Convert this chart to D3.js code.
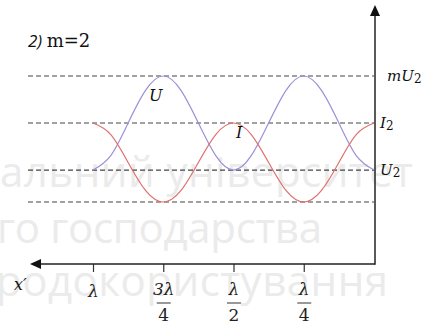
<!DOCTYPE html>
<html>
<head>
<meta charset="utf-8">
<script src="https://cdn.jsdelivr.net/npm/d3@7"></script>
<style>
body{margin:0;background:#fff;}
svg{display:block;}
</style>
</head>
<body>
<script>
// x in units of lambda (0 at the vertical axis, 1 at the left)
const xs=[1,0.9375,0.875,0.8125,0.75,0.6875,0.625,0.5625,0.5,0.4375,0.375,0.3125,0.25,0.1875,0.125,0.0625,0]
const uVals=[1,1.15,1.5,1.85,2,1.85,1.5,1.15,1,1.15,1.5,1.85,2,1.85,1.5,1.15,1]
const iVals=[1.5,1.38,1.08,0.78,0.66,0.78,1.08,1.38,1.5,1.38,1.08,0.78,0.66,0.78,1.08,1.38,1.5]
const levels=[2,1.5,1,0.66]
const tickVals=[1,0.75,0.5,0.25]
const tickNum=["λ","3λ","λ","λ"]
const tickDen=[null,"4","2","4"]
const watermark=["альний університет","го господарства","родокористування"]

const width=422,height=326
const svg=d3.select("body").append("svg").attr("width",width).attr("height",height)

// watermark behind everything
const wm=[{t:watermark[0],x:0,y:187,w:413},{t:watermark[1],x:-3,y:243,w:325},{t:watermark[2],x:-4,y:296,w:392}]
svg.selectAll(".wm").data(wm).enter().append("text")
  .attr("x",d=>d.x).attr("y",d=>d.y)
  .attr("textLength",d=>d.w).attr("lengthAdjust","spacing")
  .attr("font-family","Open Sans").attr("font-size",42)
  .attr("fill","#ebebeb").text(d=>d.t)

const x=d3.scaleLinear().domain([0,1]).range([374,93])
const y=d3.scaleLinear().domain([0.66,2]).range([202,76])
const axisY=264

// dashed levels
svg.selectAll(".lvl").data(levels).enter().append("line")
  .attr("x1",28).attr("x2",374)
  .attr("y1",d=>y(d)).attr("y2",d=>y(d))
  .attr("stroke","#444").attr("stroke-width",1.2).attr("stroke-dasharray","5,3")

const line=d3.line().x(d=>x(d[0])).y(d=>y(d[1])).curve(d3.curveNatural)
svg.append("path").datum(xs.map((v,i)=>[v,uVals[i]]))
  .attr("d",line).attr("fill","none").attr("stroke","#9c90d6").attr("stroke-width",1.2)
svg.append("path").datum(xs.map((v,i)=>[v,iVals[i]]))
  .attr("d",line).attr("fill","none").attr("stroke","#e0706c").attr("stroke-width",1.2)

// x axis
const xAxis=d3.axisBottom(x).tickValues(tickVals).tickSize(8).tickFormat("")
const gx=svg.append("g").attr("transform","translate(0,"+axisY+")").call(xAxis)
gx.select(".domain").remove()
gx.selectAll(".tick line").attr("stroke","#333").attr("stroke-width",1.2)
gx.selectAll(".tick").each(function(d,i){
  const t=d3.select(this)
  t.append("text").attr("y",i==0?33:31).attr("text-anchor","middle")
    .attr("font-family","DejaVu Serif").attr("font-style","italic").attr("font-size",17)
    .attr("fill","#222").text(tickNum[i])
  if(tickDen[i]){
    t.append("line").attr("x1",-7).attr("x2",7).attr("y1",39).attr("y2",39).attr("stroke","#333").attr("stroke-width",1)
    t.append("text").attr("y",57).attr("text-anchor","middle")
      .attr("font-family","DejaVu Serif").attr("font-size",17).attr("fill","#222").text(tickDen[i])
  }
})

svg.append("line").attr("x1",38).attr("x2",375).attr("y1",axisY).attr("y2",axisY).attr("stroke","#222").attr("stroke-width",1.5)
svg.append("path").attr("d","M30,"+axisY+" L41,"+(axisY-5)+" L41,"+(axisY+5)+" Z").attr("fill","#111")
svg.append("line").attr("x1",375).attr("x2",375).attr("y1",14).attr("y2",axisY+0.75).attr("stroke","#222").attr("stroke-width",1.5)
svg.append("path").attr("d","M375,5 L370,16 L380,16 Z").attr("fill","#111")

// labels
const title=svg.append("text").attr("x",28).attr("y",47).attr("fill","#111")
title.append("tspan").attr("font-family","Open Sans").attr("font-style","italic").attr("font-size",17).text("2) ")
title.append("tspan").attr("font-family","DejaVu Serif").attr("font-size",18).text("m=2")

svg.append("text").attr("x",149).attr("y",101).attr("font-family","DejaVu Serif").attr("font-style","italic").attr("font-size",16).attr("fill","#111").text("U")
svg.append("text").attr("x",236).attr("y",138).attr("font-family","DejaVu Serif").attr("font-style","italic").attr("font-size",16).attr("fill","#111").text("I")
svg.append("text").attr("x",14).attr("y",290).attr("font-family","DejaVu Serif").attr("font-style","italic").attr("font-size",16).attr("fill","#111").text("x′")

const rl=[{a:"mU",x:387,v:levels[0]},{a:"I",x:380,v:levels[1]},{a:"U",x:380,v:levels[2]}]
rl.forEach(d=>{
  const t=svg.append("text").attr("x",d.x).attr("y",y(d.v)+5).attr("fill","#111").attr("font-family","DejaVu Serif").attr("font-size",15)
  t.append("tspan").attr("font-style","italic").text(d.a)
  t.append("tspan").attr("font-size",12).attr("dy",2).text("2")
})
</script>
</body>
</html>
